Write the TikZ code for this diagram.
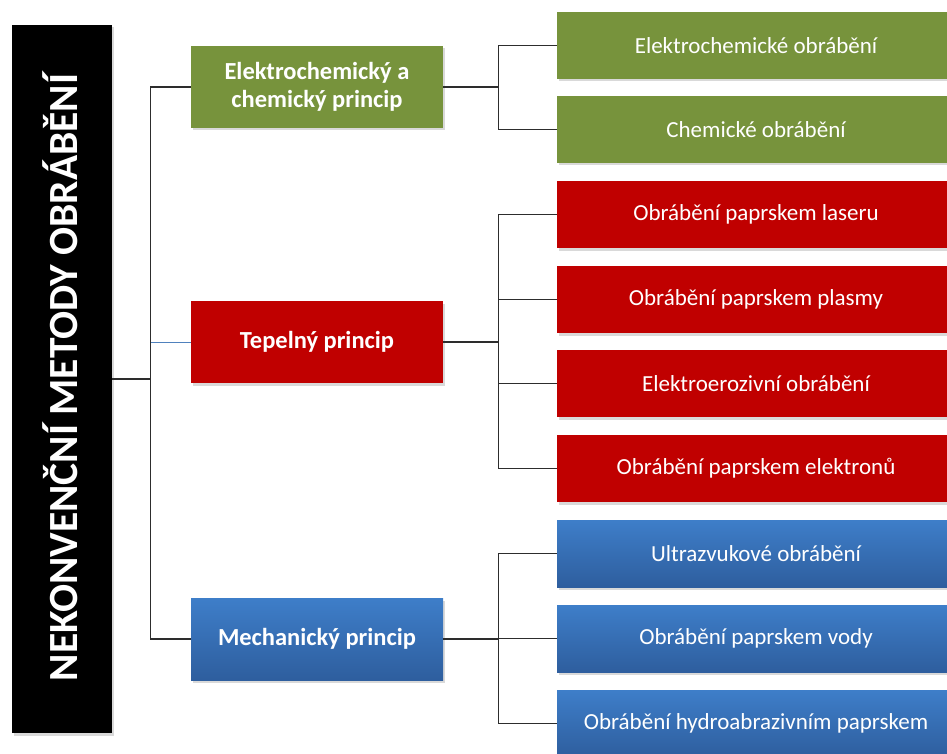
\documentclass[tikz,border=0pt]{standalone}
\usepackage{fontspec}
\setmainfont{Carlito}
\usetikzlibrary{shadows}
\definecolor{grn}{RGB}{119,147,60}
\definecolor{rd}{RGB}{192,0,0}
\definecolor{blT}{RGB}{62,126,201}
\definecolor{blB}{RGB}{46,94,158}
\definecolor{conncol}{RGB}{45,45,45}
\definecolor{bluecon}{RGB}{79,129,189}
\tikzset{
  boxbase/.style={rectangle, inner sep=0pt, text=white, align=center,
    drop shadow={shadow xshift=1.5pt, shadow yshift=-2.5pt, opacity=0.3}},
  parentbox/.style={boxbase, minimum width=252pt, minimum height=82pt,
    font=\fontsize{24.5}{28}\selectfont\bfseries},
  childbox/.style={boxbase, minimum width=398pt, minimum height=67pt,
    font=\fontsize{23}{26}\selectfont},
  greenfill/.style={fill=grn},
  redfill/.style={fill=rd},
  bluefill/.style={top color=blT, bottom color=blB},
  conn/.style={draw=conncol, line width=1.3pt},
  blueconn/.style={draw=bluecon, line width=1pt},
}
\begin{document}
\begin{tikzpicture}[x=1pt,y=-1pt]
\useasboundingbox (0,0) rectangle (947,754);
\clip (0,0) rectangle (947,754);
% root
\node[rectangle, fill=black, minimum width=100pt, minimum height=708pt, inner sep=0pt,
  drop shadow={shadow xshift=1.5pt, shadow yshift=-2.5pt, opacity=0.3}] (root) at (62,379) {};
\node[rotate=90, text=white, font=\fontsize{41.5}{44}\selectfont\bfseries] (roottext) at (60,377.5) {NEKONVENČNÍ METODY OBRÁBĚNÍ};
% parents
\node[parentbox, greenfill] (g) at (317,87) {Elektrochemický a\\chemický princip};
\node[parentbox, redfill] (r) at (317,342) {Tepelný princip};
\node[parentbox, bluefill] (b) at (317,639) {Mechanický princip};
% children
\node[childbox, greenfill] (g1) at (756,45.5) {Elektrochemické obrábění};
\node[childbox, greenfill] (g2) at (756,129.5) {Chemické obrábění};
\node[childbox, redfill] (r1) at (756,214.5) {Obrábění paprskem laseru};
\node[childbox, redfill] (r2) at (756,299.5) {Obrábění paprskem plasmy};
\node[childbox, redfill] (r3) at (756,383.5) {Elektroerozivní obrábění};
\node[childbox, redfill] (r4) at (756,468.5) {Obrábění paprskem elektronů};
\node[childbox, bluefill] (b1) at (756,553.5) {Ultrazvukové obrábění};
\node[childbox, bluefill] (b2) at (756,638.5) {Obrábění paprskem vody};
\node[childbox, bluefill] (b3) at (756,723.5) {Obrábění hydroabrazivním paprskem};
% root connectors
\coordinate (j0) at (151,379);
\draw[conn] (root.east |- j0) -- (j0);
\draw[conn] (g.west) -- ++(-40,0) |- (b.west);
\draw[blueconn] (r.west) -- ++(-39.5,0);
% green children
\draw[conn] (g.east) -- ++(56,0);
\draw[conn] (g1.west) -- ++(-58,0) |- (g2.west);
% red children
\draw[conn] (r.east) -- ++(56,0);
\draw[conn] (r1.west) -- ++(-58,0) |- (r4.west);
\draw[conn] (r2.west) -- ++(-58,0);
\draw[conn] (r3.west) -- ++(-58,0);
% blue children
\draw[conn] (b.east) -- ++(56,0);
\draw[conn] (b1.west) -- ++(-58,0) |- (b3.west);
\draw[conn] (b2.west) -- ++(-58,0);
\end{tikzpicture}
\end{document}
